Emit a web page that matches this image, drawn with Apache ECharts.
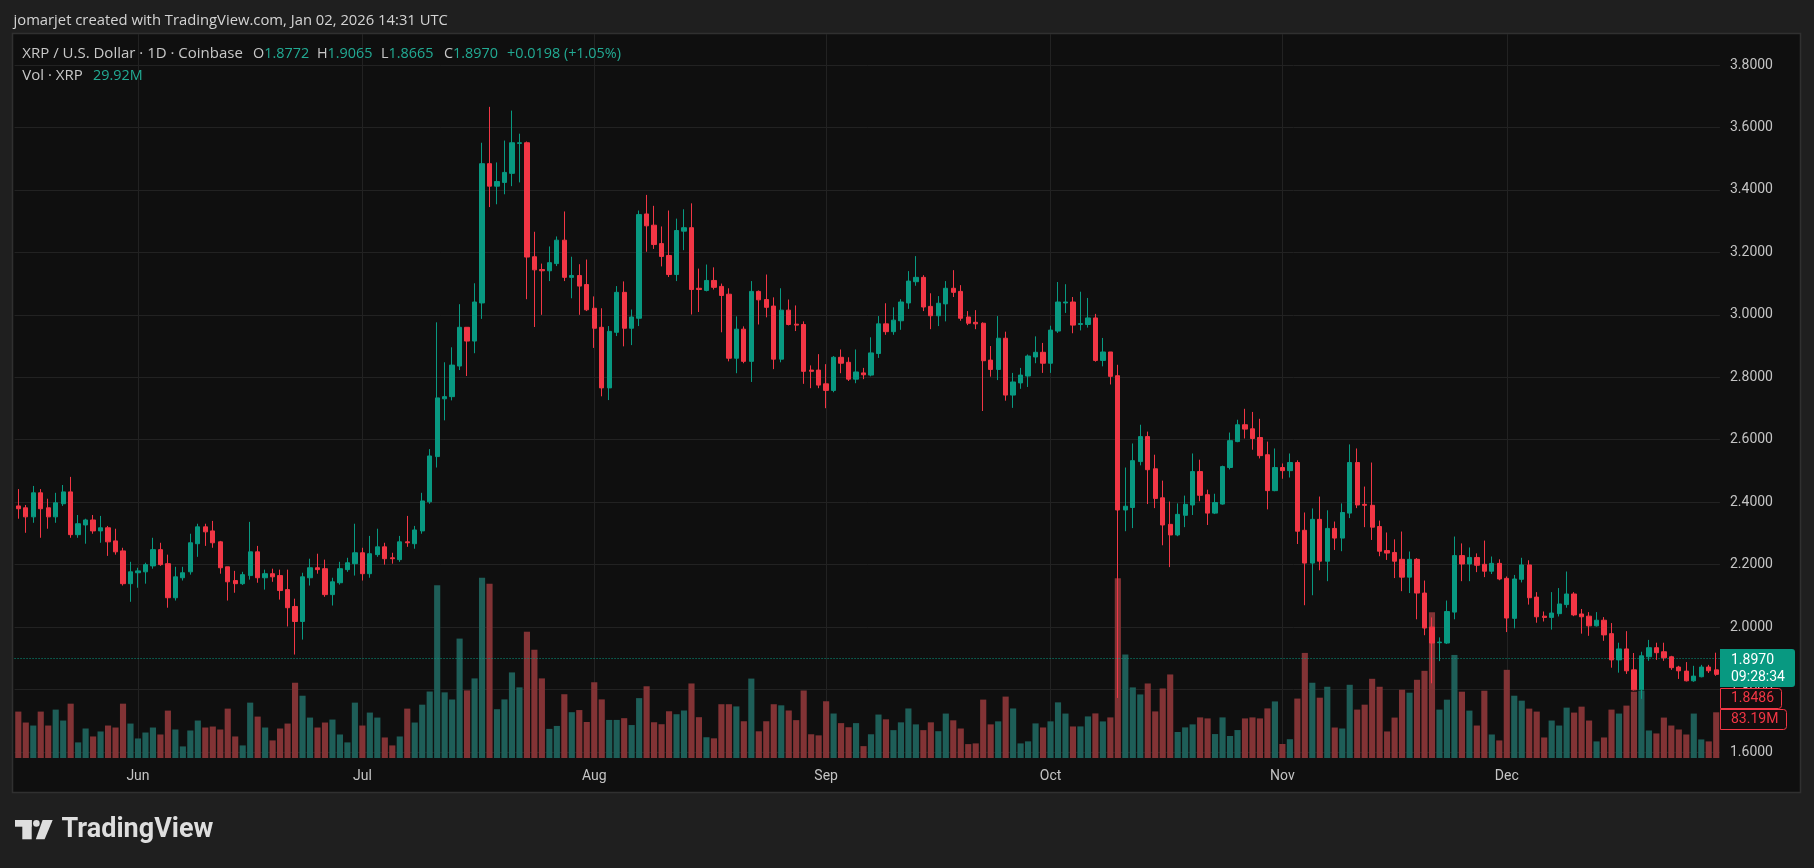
<!DOCTYPE html>
<html>
<head>
<meta charset="utf-8">
<title>XRP / U.S. Dollar · 1D · Coinbase</title>
<script src="https://cdn.jsdelivr.net/npm/echarts@6/dist/echarts.min.js"></script>
<style>
  html, body { margin: 0; padding: 0; background: #1f1f1f; }
  #main { width: 1814px; height: 868px; }
</style>
</head>
<body>
<div id="main"></div>
<script>
// XRP / USD daily candles, Coinbase, 16 May 2025 -> 29 Dec 2025
var firstDay = [2025, 4, 16];  // y, m (0-based), d

var opens = [
  2.388,2.382,2.353,2.430,2.382,2.353,2.395,2.433,2.296,2.327,
  2.343,2.308,2.318,2.276,2.244,2.139,2.174,2.177,2.196,2.248,
  2.203,2.094,2.158,2.177,2.267,2.321,2.308,2.273,2.193,2.149,
  2.139,2.165,2.241,2.158,2.171,2.165,2.120,2.066,2.018,2.158,
  2.190,2.187,2.104,2.142,2.184,2.203,2.238,2.171,2.232,2.257,
  2.222,2.216,2.273,2.267,2.308,2.401,2.546,2.731,2.738,2.836,
  2.960,2.916,3.038,3.484,3.412,3.424,3.453,3.549,3.551,3.186,
  3.145,3.141,3.164,3.239,3.120,3.126,3.097,3.021,2.960,2.766,
  2.944,3.072,2.957,2.989,3.323,3.287,3.228,3.190,3.129,3.268,
  3.279,3.085,3.078,3.110,3.091,3.066,2.861,2.954,2.851,3.075,
  3.049,3.028,2.858,3.015,2.970,2.969,2.823,2.823,2.779,2.758,
  2.864,2.848,2.794,2.814,2.807,2.876,2.971,2.946,2.981,3.038,
  3.106,3.120,3.027,2.997,3.035,3.085,3.075,2.993,2.976,2.973,
  2.855,2.825,2.925,2.743,2.782,2.804,2.865,2.880,2.845,2.948,
  3.038,3.041,2.969,2.969,2.990,2.854,2.881,2.805,2.375,2.383,
  2.530,2.610,2.507,2.414,2.329,2.295,2.358,2.391,2.498,2.424,
  2.365,2.394,2.511,2.594,2.648,2.635,2.607,2.552,2.437,2.511,
  2.501,2.527,2.310,2.205,2.345,2.211,2.316,2.285,2.365,2.527,
  2.393,2.390,2.322,2.245,2.239,2.217,2.160,2.217,2.109,2.000,
  1.950,1.949,2.048,2.229,2.202,2.223,2.201,2.179,2.204,2.156,
  2.028,2.153,2.199,2.096,2.035,2.031,2.043,2.072,2.106,2.042,
  2.035,2.004,2.022,1.979,1.895,1.930,1.863,1.799,1.905,1.934,
  1.921,1.905,1.872,1.859,1.828,1.841,1.872,1.863
];
var closes = [
  2.379,2.353,2.430,2.379,2.353,2.398,2.433,2.296,2.331,2.343,
  2.308,2.318,2.273,2.241,2.139,2.177,2.180,2.200,2.248,2.200,
  2.094,2.161,2.174,2.270,2.321,2.305,2.270,2.190,2.145,2.139,
  2.168,2.241,2.158,2.171,2.161,2.117,2.062,2.018,2.161,2.190,
  2.184,2.104,2.145,2.187,2.206,2.238,2.171,2.235,2.257,2.219,
  2.219,2.273,2.270,2.311,2.404,2.548,2.734,2.738,2.839,2.960,
  2.916,3.041,3.484,3.412,3.427,3.456,3.551,3.551,3.185,3.144,
  3.141,3.167,3.239,3.120,3.126,3.092,3.016,2.957,2.766,2.947,
  3.072,2.957,2.993,3.321,3.285,3.225,3.187,3.129,3.270,3.279,
  3.081,3.081,3.110,3.088,3.062,2.861,2.954,2.851,3.075,3.048,
  3.024,2.858,3.015,2.969,2.967,2.819,2.819,2.775,2.758,2.864,
  2.845,2.794,2.817,2.808,2.878,2.971,2.946,2.983,3.041,3.108,
  3.120,3.025,2.997,3.037,3.085,3.072,2.989,2.973,2.971,2.853,
  2.825,2.925,2.743,2.785,2.807,2.868,2.880,2.845,2.951,3.041,
  3.041,2.967,2.972,2.990,2.854,2.881,2.803,2.375,2.387,2.533,
  2.610,2.504,2.412,2.327,2.295,2.361,2.393,2.498,2.422,2.365,
  2.399,2.514,2.597,2.648,2.634,2.604,2.549,2.437,2.511,2.501,
  2.527,2.307,2.205,2.345,2.211,2.316,2.285,2.367,2.527,2.391,
  2.390,2.320,2.243,2.237,2.211,2.160,2.217,2.109,1.997,1.949,
  1.952,2.050,2.229,2.202,2.223,2.198,2.179,2.204,2.154,2.029,
  2.154,2.199,2.094,2.033,2.031,2.045,2.074,2.106,2.039,2.033,
  2.004,2.022,1.975,1.895,1.930,1.860,1.799,1.908,1.934,1.918,
  1.902,1.870,1.860,1.828,1.843,1.872,1.860,1.8486
];
var lows = [
  2.347,2.302,2.334,2.286,2.315,2.334,2.388,2.286,2.286,2.267,
  2.299,2.270,2.228,2.232,2.133,2.081,2.126,2.139,2.187,2.196,
  2.062,2.085,2.149,2.168,2.225,2.260,2.254,2.171,2.085,2.110,
  2.135,2.152,2.142,2.120,2.145,2.088,2.002,1.912,1.960,2.133,
  2.171,2.097,2.069,2.136,2.177,2.165,2.149,2.158,2.225,2.200,
  2.203,2.209,2.257,2.251,2.299,2.395,2.511,2.662,2.726,2.823,
  2.804,2.877,2.987,3.345,3.354,3.386,3.412,3.424,3.050,2.961,
  3.000,3.108,3.156,3.108,3.053,3.000,3.012,2.894,2.739,2.727,
  2.932,2.899,2.903,2.964,3.202,3.211,3.155,3.121,3.108,3.207,
  3.001,3.009,3.075,3.081,2.944,2.851,2.813,2.845,2.785,2.969,
  2.992,2.826,2.848,2.966,2.948,2.779,2.765,2.765,2.701,2.752,
  2.813,2.788,2.781,2.794,2.803,2.862,2.936,2.936,2.952,3.019,
  3.093,3.012,2.954,2.964,2.979,3.057,2.981,2.967,2.954,2.692,
  2.802,2.791,2.725,2.702,2.763,2.769,2.845,2.814,2.814,2.942,
  3.006,2.941,2.950,2.959,2.850,2.835,2.777,1.773,2.307,2.317,
  2.518,2.394,2.381,2.262,2.192,2.291,2.320,2.359,2.403,2.327,
  2.362,2.392,2.505,2.592,2.604,2.568,2.540,2.377,2.435,2.475,
  2.479,2.266,2.070,2.102,2.182,2.147,2.247,2.243,2.349,2.381,
  2.320,2.279,2.227,2.215,2.157,2.115,2.109,2.025,1.974,1.820,
  1.891,1.946,2.025,2.147,2.147,2.176,2.160,2.170,2.150,1.984,
  1.996,2.143,2.072,2.014,2.018,1.992,2.034,2.062,2.035,1.979,
  1.972,2.002,1.956,1.870,1.854,1.850,1.797,1.770,1.892,1.895,
  1.892,1.863,1.834,1.826,1.825,1.839,1.853,1.844
];
var highs = [
  2.442,2.391,2.452,2.442,2.411,2.430,2.455,2.481,2.359,2.347,
  2.359,2.356,2.324,2.315,2.254,2.209,2.190,2.206,2.286,2.270,
  2.232,2.193,2.193,2.299,2.331,2.331,2.340,2.276,2.193,2.180,
  2.177,2.337,2.260,2.184,2.187,2.184,2.184,2.091,2.174,2.219,
  2.235,2.216,2.158,2.209,2.222,2.331,2.254,2.292,2.315,2.270,
  2.238,2.292,2.356,2.324,2.430,2.570,2.976,2.848,2.896,3.034,
  2.960,3.101,3.551,3.666,3.488,3.558,3.654,3.580,3.555,3.266,
  3.164,3.219,3.251,3.331,3.186,3.162,3.177,3.059,3.021,2.964,
  3.092,3.107,3.017,3.334,3.384,3.349,3.283,3.334,3.308,3.338,
  3.357,3.148,3.161,3.152,3.100,3.085,2.995,2.963,3.108,3.078,
  3.129,3.056,3.085,3.049,3.030,2.979,2.838,2.874,2.842,2.868,
  2.889,2.864,2.889,2.830,2.928,2.996,3.037,3.024,3.050,3.140,
  3.188,3.127,3.069,3.060,3.108,3.143,3.095,3.012,3.015,2.976,
  2.900,2.996,2.946,2.814,2.830,2.873,2.931,2.910,2.965,3.105,
  3.098,3.057,3.074,3.054,3.003,2.926,2.881,2.840,2.511,2.588,
  2.648,2.626,2.552,2.469,2.402,2.396,2.421,2.556,2.536,2.440,
  2.427,2.517,2.623,2.664,2.699,2.689,2.667,2.594,2.572,2.524,
  2.556,2.534,2.367,2.380,2.418,2.374,2.338,2.396,2.585,2.572,
  2.450,2.527,2.341,2.303,2.281,2.306,2.242,2.221,2.149,2.031,
  1.967,2.085,2.290,2.268,2.255,2.236,2.277,2.226,2.217,2.162,
  2.167,2.222,2.214,2.112,2.050,2.112,2.125,2.178,2.112,2.058,
  2.048,2.048,2.032,2.013,1.950,1.987,1.917,1.921,1.959,1.950,
  1.950,1.908,1.876,1.888,1.876,1.879,1.879,1.918
];
// volume in millions of XRP
var volumes = [
  84.5,64.6,59.1,84.5,59.1,88.1,68.2,98.9,28.4,53.7,
  39.2,48.3,59.1,55.5,98.9,62.7,35.6,46.4,55.5,42.8,
  86.3,51.9,21.1,50.1,68.2,55.5,57.3,51.9,89.9,39.2,
  22.9,100.8,75.4,55.5,32.0,53.7,62.7,137.0,113.4,73.6,
  55.5,64.6,70.0,42.8,28.4,100.8,59.1,82.7,73.6,37.4,
  22.9,39.2,89.9,64.6,97.1,121.0,314.5,119.5,106.5,217.4,
  123.1,144.9,328.0,317.1,88.8,106.7,155.8,128.6,229.9,197.1,
  144.9,53.0,58.4,116.1,83.4,87.3,65.5,137.9,106.7,69.3,
  69.3,72.5,60.0,109.0,130.6,65.1,61.5,85.1,79.7,86.5,
  135.7,74.3,37.8,35.8,97.9,97.9,93.9,66.9,144.6,48.6,
  66.9,97.9,95.9,86.5,68.9,122.9,43.2,41.2,103.3,81.0,
  63.5,56.0,63.5,21.6,43.2,79.1,70.4,50.7,64.9,90.2,
  61.2,50.7,64.9,48.8,80.9,68.6,53.7,25.3,26.6,106.3,
  61.2,66.7,111.8,90.2,26.6,30.3,63.0,55.6,66.7,101.3,
  80.9,57.4,57.5,75.7,81.2,66.6,73.9,327.2,188.4,128.5,
  115.7,135.7,84.8,126.6,152.1,47.3,55.7,61.2,73.9,72.1,
  43.6,73.9,40.0,50.9,72.1,73.9,72.1,90.3,103.0,25.5,
  34.2,108.2,191.3,137.0,109.8,129.7,55.5,53.7,133.3,88.1,
  97.1,144.2,129.7,48.3,73.6,124.3,118.9,142.4,158.7,265.4,
  88.1,106.2,187.6,120.7,86.3,59.1,122.5,42.8,32.0,160.5,
  113.4,104.4,89.9,84.5,37.4,68.2,59.1,91.7,82.7,93.5,
  68.2,30.2,37.4,88.1,80.9,95.4,120.7,122.5,50.1,44.7,
  73.6,59.1,51.9,42.8,80.9,33.8,30.2,83.19
];

var monthNames = ['Jan','Feb','Mar','Apr','May','Jun','Jul','Aug','Sep','Oct','Nov','Dec'];
var priceMin = 1.6, priceMax = 3.8, priceStep = 0.2;
var lastPrice = 1.8970;
var legendTitle = 'XRP / U.S. Dollar · 1D · Coinbase';
var legendKeys = ['O', 'H', 'L', 'C', ''];
var legendVals = ['1.8772', '1.9065', '1.8665', '1.8970', '+0.0198 (+1.05%)'];
var legendVol = '29.92M';
var tagPrice = '1.8970', tagTimer = '09:28:34', tagClose = '1.8486', tagVol = '83.19M';

var UP = '#089981', DOWN = '#f23645';
var VOL_UP = '#1e5e58', VOL_DOWN = '#823335';
var GRID_LINE = '#222222';
var AXIS_TEXT = '#c4c4c4';
var FONT = 'Roboto, "Liberation Sans", sans-serif';
var HEAD_FONT = '"Open Sans", Roboto, sans-serif';

// day categories
var days = [];
for (var i = 0; i < opens.length; i++) {
  var d = new Date(Date.UTC(firstDay[0], firstDay[1], firstDay[2] + i));
  days.push(d.toISOString().slice(0, 10));
}
var monthStarts = days.filter(function (s) { return s.slice(8) === '01'; });

var candles = opens.map(function (o, i) { return [o, closes[i], lows[i], highs[i]]; });
var volData = volumes.map(function (v, i) {
  return { value: v, itemStyle: { color: closes[i] >= opens[i] ? VOL_UP : VOL_DOWN } };
});

var plotLeft = 14.56, plotWidth = 1705.4;

var legendX = [253, 317, 381, 444, 507];
var richLegend = {
  g: { fill: '#c8c8c8', color: '#c8c8c8', fontSize: 14.4, fontFamily: HEAD_FONT },
  v: { fill: '#22ab94', color: '#22ab94', fontSize: 14.4, fontFamily: HEAD_FONT }
};
var legendGraphics = [
  { type: 'text', x: 22.3, y: 54, z: 20,
    style: { text: legendTitle, fill: '#c8c8c8', fontSize: 15, fontFamily: HEAD_FONT, verticalAlign: 'middle' } }
];
legendVals.forEach(function (val, k) {
  legendGraphics.push({ type: 'text', x: legendX[k], y: 54, z: 20,
    style: { text: (legendKeys[k] ? '{g|' + legendKeys[k] + '}' : '') + '{v|' + val + '}',
      verticalAlign: 'middle', fontSize: 14.4, fontFamily: HEAD_FONT, rich: richLegend } });
});
legendGraphics.push(
  { type: 'text', x: 22.3, y: 75.7, z: 20,
    style: { text: 'Vol · XRP', fill: '#c8c8c8', fontSize: 15, fontFamily: HEAD_FONT, verticalAlign: 'middle' } },
  { type: 'text', x: 93, y: 75.7, z: 20,
    style: { text: legendVol, fill: '#22ab94', fontSize: 14.4, fontFamily: HEAD_FONT, verticalAlign: 'middle' } }
);

var myChart = echarts.init(document.getElementById('main'));
var option = {
  backgroundColor: '#1f1f1f',
  animation: false,
  textStyle: { fontFamily: FONT },
  grid: [
    { left: plotLeft, top: 65, width: plotWidth, height: 687 },
    { left: plotLeft, top: 34, width: plotWidth, height: 724 }
  ],
  xAxis: [
    { type: 'category', gridIndex: 0, data: days, boundaryGap: true, show: false },
    {
      type: 'category', gridIndex: 1, data: days, boundaryGap: true,
      axisLine: { show: false }, axisTick: { show: false }, splitLine: { show: false },
      axisLabel: {
        interval: function (idx, val) { return val.slice(8) === '01'; },
        formatter: function (val) { return monthNames[+val.slice(5, 7) - 1]; },
        color: AXIS_TEXT, fontSize: 14, margin: 11, fontFamily: FONT
      }
    }
  ],
  yAxis: [
    {
      type: 'value', gridIndex: 0, position: 'right',
      min: priceMin, max: priceMax, interval: priceStep,
      axisLine: { show: false }, axisTick: { show: false },
      splitLine: { lineStyle: { color: GRID_LINE, width: 1 } },
      axisLabel: {
        formatter: function (v) { return v.toFixed(4); },
        color: AXIS_TEXT, fontSize: 14, margin: 10, fontFamily: FONT
      }
    },
    { type: 'value', gridIndex: 1, min: 0, max: 1318, show: false }
  ],
  series: [
    {
      name: 'Vol',
      type: 'bar',
      xAxisIndex: 1, yAxisIndex: 1,
      data: volData,
      barWidth: '82%',
      z: 2,
      markLine: {
        silent: true, z: 1, animation: false,
        symbol: ['none', 'none'],
        label: { show: false },
        lineStyle: { color: GRID_LINE, type: 'solid', width: 1 },
        data: monthStarts.map(function (s) { return { xAxis: s }; })
      }
    },
    {
      name: 'XRPUSD',
      type: 'candlestick',
      xAxisIndex: 0, yAxisIndex: 0,
      data: candles,
      barWidth: '64%',
      z: 5,
      itemStyle: { color: UP, color0: DOWN, borderColor: UP, borderColor0: DOWN, borderWidth: 1 },
      markLine: {
        silent: true, animation: false,
        symbol: ['none', 'none'],
        label: { show: false },
        lineStyle: { color: UP, type: [1, 2], width: 1 },
        data: [{ yAxis: lastPrice }]
      }
    }
  ],
  graphic: [
    // chart frame
    { type: 'rect', z: -10, shape: { x: 12.5, y: 33.5, width: 1788, height: 759 },
      style: { fill: '#0f0f0f', stroke: '#303030', lineWidth: 1.5 } },
    // snapshot header
    { type: 'text', x: 13.5, y: 20.7, z: 20,
      style: { text: 'jomarjet created with TradingView.com, Jan 02, 2026 14:31 UTC',
        fill: '#d4d4d4', fontSize: 14.8, fontFamily: HEAD_FONT, verticalAlign: 'middle' } },
    // price scale tags
    { type: 'rect', z: 30, shape: { x: 1720, y: 649, width: 75, height: 38, r: [0, 3, 3, 0] },
      style: { fill: UP } },
    { type: 'text', x: 1731, y: 660, z: 31,
      style: { text: tagPrice, fill: '#ffffff', fontSize: 14, fontFamily: FONT, verticalAlign: 'middle' } },
    { type: 'text', x: 1731, y: 677.5, z: 31,
      style: { text: tagTimer, fill: '#ffffff', fontSize: 14, fontFamily: FONT, verticalAlign: 'middle' } },
    { type: 'rect', z: 30, shape: { x: 1720.5, y: 688.5, width: 61, height: 20, r: [0, 3, 3, 0] },
      style: { fill: '#140d0e', stroke: DOWN, lineWidth: 1 } },
    { type: 'text', x: 1731, y: 698.7, z: 31,
      style: { text: tagClose, fill: DOWN, fontSize: 14, fontFamily: FONT, verticalAlign: 'middle' } },
    { type: 'rect', z: 30, shape: { x: 1720.5, y: 709.5, width: 66, height: 20, r: [0, 3, 3, 0] },
      style: { fill: '#140d0e', stroke: DOWN, lineWidth: 1 } },
    { type: 'text', x: 1731, y: 719.5, z: 31,
      style: { text: tagVol, fill: DOWN, fontSize: 14, fontFamily: FONT, verticalAlign: 'middle' } },
    // TradingView logo
    { type: 'rect', z: 20, shape: { x: 15, y: 820, width: 16.7, height: 6.7 }, style: { fill: '#dedede' } },
    { type: 'rect', z: 20, shape: { x: 22.3, y: 820, width: 9.4, height: 19.3 }, style: { fill: '#dedede' } },
    { type: 'circle', z: 20, shape: { cx: 36.4, cy: 823.4, r: 3.3 }, style: { fill: '#dedede' } },
    { type: 'polygon', z: 20, shape: { points: [[42.6, 820], [52.7, 820], [44.6, 839.3], [35.8, 839.3]] },
      style: { fill: '#dedede' } },
    { type: 'text', x: 61.5, y: 830, z: 20,
      style: { text: 'TradingView', fill: '#dedede', fontSize: 27, fontWeight: 'bold', fontFamily: FONT,
        verticalAlign: 'middle' } }
  ].concat(legendGraphics)
};
// 为echarts对象加载数据
myChart.setOption(option);
</script>
</body>
</html>
